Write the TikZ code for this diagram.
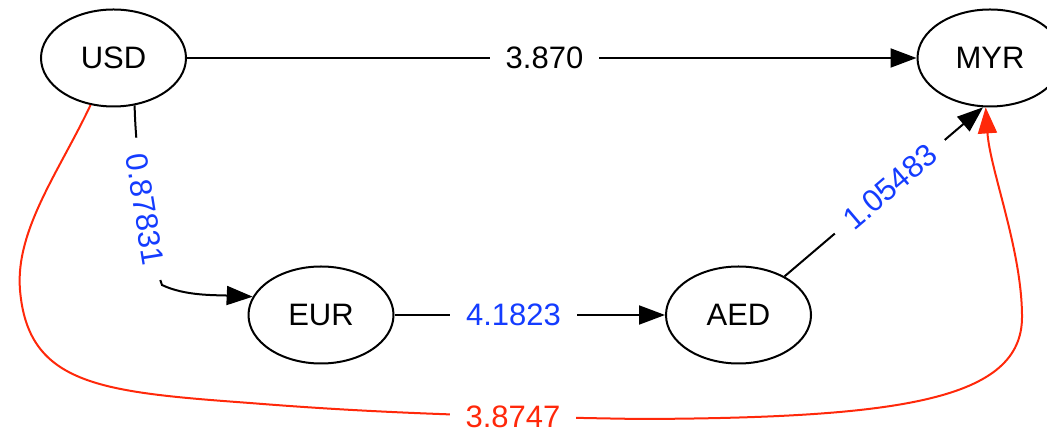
\documentclass[tikz,border=0pt]{standalone}
\usepackage{fontspec}
\setmainfont{Liberation Sans}
\usetikzlibrary{shapes.geometric,arrows.meta}
\definecolor{rateblue}{RGB}{20,60,255}
\definecolor{ratered}{RGB}{255,40,10}
\tikzset{
  cur/.style={ellipse, draw, line width=1pt, minimum width=72.5pt, minimum height=48.5pt,
    inner sep=0pt, font=\fontsize{15.5}{18}\selectfont},
  edge/.style={line width=1pt, -{Triangle[length=13pt,width=9.5pt]}},
  lbl/.style={fill=white, inner xsep=8pt, inner ysep=2pt, font=\fontsize{15.5}{18}\selectfont},
}
\begin{document}
\begin{tikzpicture}[x=0.5pt, y=-0.5pt]
        \useasboundingbox (0,0) rectangle (1047,431);
        \node[cur] (usd) at (113.5,58)  {USD};
        \node[cur] (myr) at (990,58)    {MYR};
        \node[cur] (eur) at (321,315)   {EUR};
        \node[cur] (aed) at (738.5,315) {AED};
        \draw[edge] (usd.east) -- node[lbl, pos=0.49] {3.870} (myr.west);
        \draw[edge] (usd.294) .. controls (136,170) and (152,258) .. node[lbl, sloped, text=rateblue] {0.87831} (162,285)
                    .. controls (185,296) and (215,295) .. (eur.165);
        \draw[edge] (eur.east) -- node[lbl, pos=0.44, text=rateblue] {4.1823} (aed.west);
        \draw[edge] (aed.40) -- node[lbl, sloped, pos=0.53, text=rateblue] {1.05483} (myr.262);
        \draw[edge, ratered] (usd.244) .. controls (60,170) and (15,230) .. (20,290)
                    .. controls (28,385) and (100,392) .. (250,403)
                    .. controls (350,411) and (450,416) .. node[lbl, pos=0.75, text=ratered] {3.8747} (640,419)
                    .. controls (900,418) and (1022,400) .. (1022,317)
                    .. controls (1022,250) and (990,170) .. (myr.265);
      \end{tikzpicture}
\end{document}
